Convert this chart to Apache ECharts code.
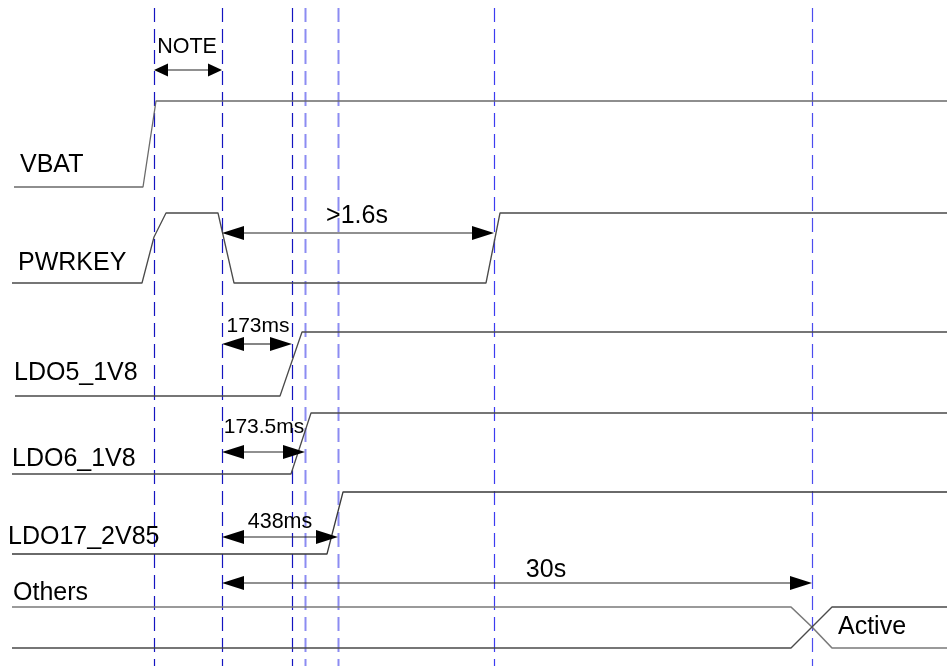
<!DOCTYPE html>
<html><head><meta charset="utf-8">
<script src="https://cdn.jsdelivr.net/npm/echarts@6/dist/echarts.min.js"></script>
<style>html,body{margin:0;padding:0;background:#fff}#c{width:947px;height:666px}</style>
</head><body><div id="c"></div>
<script>
// ---- data (diagram units: x = time position, y = level position) ----
const signalNames = ['VBAT', 'PWRKEY', 'LDO5_1V8', 'LDO6_1V8', 'LDO17_2V85', 'Others', 'Active'];
const vbat   = [[14,187],[143,187],[156,101],[947,101]];
const pwrkey = [[12,283],[142,283],[154,237],[166,213],[218,213],[234,283],[486,283],[500,213],[947,213]];
const ldo5   = [[15,396],[280,396],[302,332],[947,332]];
const ldo6   = [[12,474],[291,474],[311,413],[947,413]];
const ldo17  = [[12,554],[327,554],[343,492],[947,492]];
const othersTop    = [[12,607],[791,607],[812,627],[832,648],[947,648]];
const othersBottom = [[12,648],[791,648],[812,627],[832,607],[947,607]];
const guideX = [154, 222, 292, 305, 338, 494, 812];
const arrowFrom = [154, 222, 222, 222, 222, 222];
const arrowTo   = [222, 494, 292, 305, 338, 812];
const arrowY    = [70, 233, 344, 452, 537, 583];
const arrowLabels = ['NOTE', '>1.6s', '173ms', '173.5ms', '438ms', '30s'];

// ---- layout / style ----
const nameAnchor = [[20,165],[18,263],[14,373],[12,459],[8,537],[13,593],[838,627]];
const arrowLabelAnchor = [[187,47],[357,216],[258,326],[264,427],[280,522],[546,570]];
const arrowLabelSize = [21.5, 25, 21, 21, 21.5, 25];
const guideColor = ['#1414c0','#1414c0','#1414c0','#8c8cf2','#8c8cf2','#3c3cf0','#4c4cee'];
const FONT = "'Liberation Sans', Arial, sans-serif";

const chart = echarts.init(document.getElementById('c'), null, {renderer: 'canvas'});

function wave(name, data, color, width) {
  return {name, type: 'line', data, symbol: 'none', silent: true, animation: false,
    lineStyle: {color, width}, z: 3};
}

const option = {
  animation: false,
  backgroundColor: '#fff',
  grid: {left: 0, right: 0, top: 0, bottom: 0},
  xAxis: {type: 'value', min: 0, max: 947, show: false},
  yAxis: {type: 'value', min: 0, max: 666, inverse: true, show: false},
  series: [
    {
      type: 'custom', silent: true, clip: false, z: 1,
      data: guideX.map((x, i) => [x, i]),
      renderItem(params, api) {
        const x = api.value(0);
        const a = api.coord([x, 8]);
        const b = api.coord([x, 666]);
        const i = api.value(1);
        const px = Math.round(a[0]) + 0.5;
        return {type: 'line', shape: {x1: px, y1: a[1], x2: px, y2: b[1]},
          style: {stroke: guideColor[i], lineWidth: (i === 3 || i === 4) ? 2 : 1.2, lineDash: [14, 7]}};
      }
    },
    wave('VBAT', vbat, '#6a6a6a', 1.3),
    wave('PWRKEY', pwrkey, '#4a4a4a', 1.3),
    wave('LDO5_1V8', ldo5, '#4a4a4a', 1.3),
    wave('LDO6_1V8', ldo6, '#4a4a4a', 1.3),
    wave('LDO17_2V85', ldo17, '#3a3a3a', 1.3),
    wave('OthersTop', othersTop, '#7a7a7a', 1.6),
    wave('OthersBottom', othersBottom, '#4a4a4a', 1.4),
    {
      type: 'custom', silent: true, clip: false, z: 5,
      data: arrowFrom.map((f, i) => [f, arrowTo[i], arrowY[i], i]),
      renderItem(params, api) {
        const i = api.value(3);
        const a = api.coord([api.value(0), api.value(2)]);
        const b = api.coord([api.value(1), api.value(2)]);
        const L = i === 0 ? 14 : 22, H = i === 0 ? 6.5 : 7;
        return {type: 'group', children: [
          {type: 'line', shape: {x1: a[0] + L - 1, y1: a[1], x2: b[0] - L + 1, y2: b[1]},
            style: {stroke: '#222', lineWidth: 1.1}},
          {type: 'polygon', shape: {points: [[a[0], a[1]], [a[0] + L, a[1] - H], [a[0] + L, a[1] + H]]},
            style: {fill: '#000'}},
          {type: 'polygon', shape: {points: [[b[0], b[1]], [b[0] - L, b[1] - H], [b[0] - L, b[1] + H]]},
            style: {fill: '#000'}}
        ]};
      }
    },
    {
      type: 'custom', silent: true, clip: false, z: 6,
      data: arrowLabelAnchor.map((p, i) => [p[0], p[1], i]),
      renderItem(params, api) {
        const i = api.value(2);
        const p = api.coord([api.value(0), api.value(1)]);
        return {type: 'text', x: p[0], y: p[1],
          style: {text: arrowLabels[i], fill: '#000', font: arrowLabelSize[i] + 'px ' + FONT,
            align: 'center', verticalAlign: 'middle'}};
      }
    },
    {
      type: 'custom', silent: true, clip: false, z: 6,
      data: nameAnchor.map((p, i) => [p[0], p[1], i]),
      renderItem(params, api) {
        const i = api.value(2);
        const p = api.coord([api.value(0), api.value(1)]);
        return {type: 'text', x: p[0], y: p[1],
          style: {text: signalNames[i], fill: '#000', font: '25px ' + FONT,
            align: 'left', verticalAlign: 'middle'}};
      }
    }
  ]
};
chart.setOption(option);
</script>
</body></html>
